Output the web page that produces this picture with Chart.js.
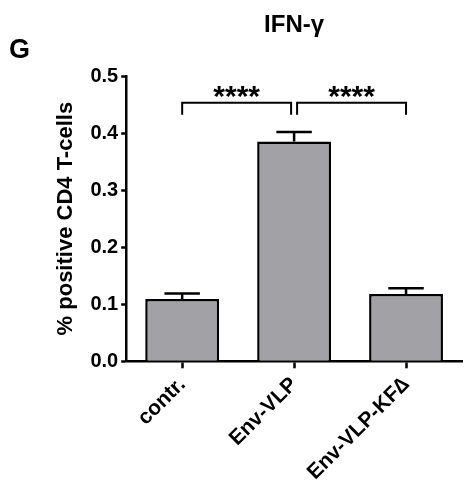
<!DOCTYPE html>
<html>
<head>
<meta charset="utf-8">
<script src="https://cdn.jsdelivr.net/npm/chart.js@4/dist/chart.umd.min.js"></script>
<style>
  body { margin: 0; background: #fff; }
  canvas { display: block; }
</style>
</head>
<body>
<canvas id="chart" width="474" height="493"></canvas>
<script>
const categories = ['contr.', 'Env-VLP', 'Env-VLP-KF\u2206']
const means = [0.109, 0.385, 0.118]
const errors = [0.010, 0.017, 0.010]
const brackets = [
  { from: 0, to: 1, label: '****' },
  { from: 1, to: 2, label: '****' },
]
const bracketTop = 0.453
const bracketBottom = 0.432

const FONT = "'Liberation Sans', Arial, sans-serif"

// error bars + significance brackets + panel letter + title
const extras = {
  id: 'extras',
  afterDatasetsDraw(chart) {
    const ctx = chart.ctx
    const x = chart.scales.x
    const y = chart.scales.y
    const meta = chart.getDatasetMeta(0)
    ctx.save()
    ctx.strokeStyle = '#000'
    ctx.lineWidth = 2.5
    meta.data.forEach((bar, i) => {
      const top = y.getPixelForValue(means[i] + errors[i])
      const half = bar.width * 0.24
      ctx.beginPath()
      ctx.moveTo(bar.x, y.getPixelForValue(means[i]))
      ctx.lineTo(bar.x, top)
      ctx.moveTo(bar.x - half, top)
      ctx.lineTo(bar.x + half, top)
      ctx.stroke()
    })

    ctx.lineWidth = 2
    ctx.fillStyle = '#000'
    ctx.font = 'bold 30px ' + FONT
    ctx.textAlign = 'center'
    ctx.textBaseline = 'alphabetic'
    const yt = y.getPixelForValue(bracketTop)
    const yb = y.getPixelForValue(bracketBottom)
    brackets.forEach((b) => {
      const x1 = x.getPixelForValue(b.from) + (b.from === 1 ? 3 : 0)
      const x2 = x.getPixelForValue(b.to) - (b.to === 1 ? 3 : 0)
      ctx.beginPath()
      ctx.moveTo(x1, yb)
      ctx.lineTo(x1, yt)
      ctx.lineTo(x2, yt)
      ctx.lineTo(x2, yb)
      ctx.stroke()
      ctx.fillText(b.label, (x1 + x2) / 2, yt + 3)
    })

    ctx.font = 'bold 24px ' + FONT
    ctx.fillText('IFN-\u03b3', (chart.chartArea.left + chart.chartArea.right) / 2, 32)
    ctx.textAlign = 'left'
    ctx.font = 'bold 27px ' + FONT
    ctx.fillText('G', 9, 58)
    ctx.restore()
  },
}

new Chart(document.getElementById('chart'), {
  type: 'bar',
  data: {
    labels: categories,
    datasets: [
      {
        data: means,
        backgroundColor: '#a2a2a6',
        borderColor: '#000',
        borderWidth: 2.5,
        borderSkipped: 'bottom',
        barPercentage: 0.66,
        categoryPercentage: 1,
      },
    ],
  },
  options: {
    responsive: false,
    animation: false,
    devicePixelRatio: 1,
    layout: { padding: { top: 76, right: 12, left: 49, bottom: 4 } },
    plugins: {
      legend: { display: false },
      tooltip: { enabled: false },
    },
    scales: {
      x: {
        border: { color: '#000', width: 2.5 },
        grid: {
          offset: false,
          drawOnChartArea: false,
          tickLength: 7,
          tickWidth: 2.5,
          tickColor: '#000',
        },
        ticks: {
          color: '#000',
          font: { family: FONT, size: 21, weight: 'bold' },
          minRotation: 45,
          maxRotation: 45,
          padding: 4,
        },
      },
      y: {
        min: 0,
        max: 0.5,
        border: { color: '#000', width: 2.5 },
        grid: {
          drawOnChartArea: false,
          tickLength: 5,
          tickWidth: 2.5,
          tickColor: '#000',
        },
        ticks: {
          stepSize: 0.1,
          color: '#000',
          padding: 3,
          font: { family: FONT, size: 20, weight: 'bold' },
          callback: (v) => v.toFixed(1),
        },
        title: {
          display: true,
          text: '% positive CD4 T-cells',
          color: '#000',
          font: { family: FONT, size: 22, weight: 'bold' },
          padding: { bottom: 8 },
        },
      },
    },
  },
  plugins: [extras],
})
</script>
</body>
</html>
